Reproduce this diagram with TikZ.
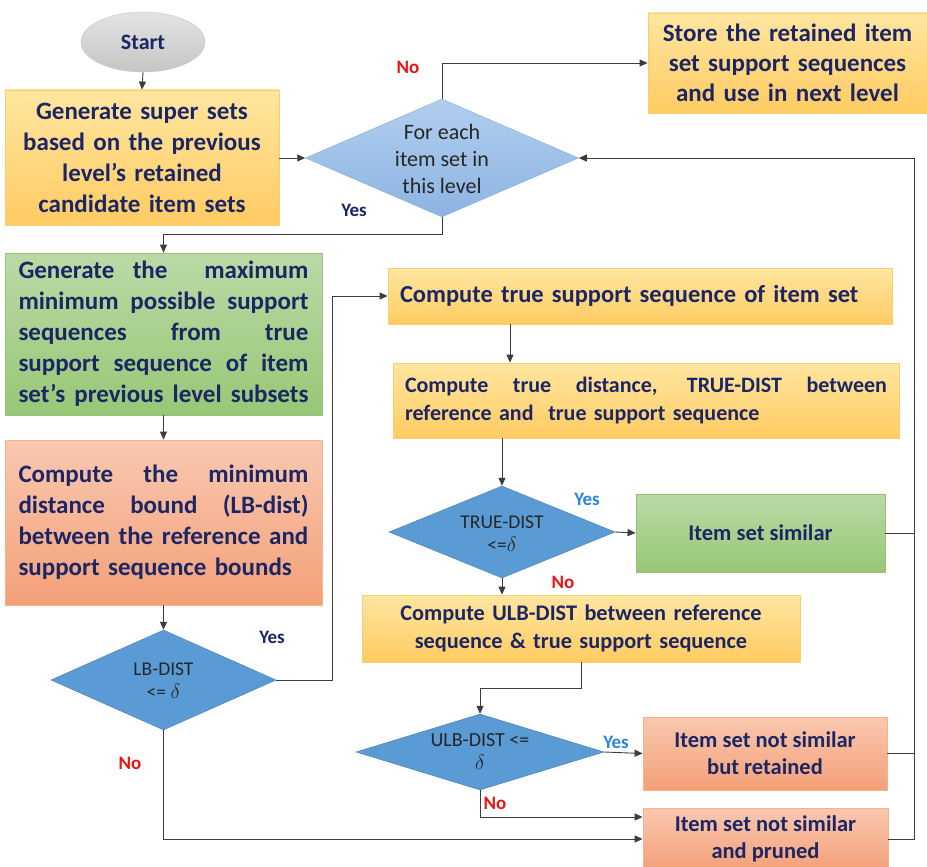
\documentclass[tikz,border=0pt]{standalone}
\usepackage{fontspec}
\setmainfont{Carlito}
\usetikzlibrary{shapes.geometric,arrows.meta}
\definecolor{navy}{RGB}{28,38,100}
\definecolor{lnc}{RGB}{60,60,60}
\definecolor{orT}{RGB}{255,230,160}
\definecolor{orB}{RGB}{255,203,98}
\definecolor{orD}{RGB}{250,205,110}
\definecolor{grT}{RGB}{186,218,166}
\definecolor{grB}{RGB}{152,199,118}
\definecolor{grD}{RGB}{150,195,115}
\definecolor{rdT}{RGB}{249,200,176}
\definecolor{rdB}{RGB}{244,160,120}
\definecolor{rdD}{RGB}{245,178,140}
\definecolor{dbl}{RGB}{91,155,213}
\definecolor{lbT}{RGB}{178,206,238}
\definecolor{lbB}{RGB}{140,180,226}
\definecolor{yesb}{RGB}{40,135,220}
\definecolor{nor}{RGB}{235,20,20}
\newcommand\myfz[2]{\fontsize{#1}{#2}\selectfont\bfseries}
\newcommand\jl[2]{{\spaceskip=0pt\xspaceskip=0pt\makebox[#1][s]{#2}}}
\hyphenpenalty=10000
\tikzset{
  boxbase/.style={rectangle, inner sep=0pt, line width=0.8pt, text=navy},
  orbox/.style={boxbase, top color=orT, bottom color=orB, draw=orD},
  grbox/.style={boxbase, top color=grT, bottom color=grB, draw=grD},
  rdbox/.style={boxbase, top color=rdT, bottom color=rdB, draw=rdD},
  dia/.style={diamond, inner sep=0pt, fill=dbl, draw=dbl!85!black, line width=0.5pt},
  ldia/.style={diamond, inner sep=0pt, top color=lbT, bottom color=lbB, draw=lbB, line width=0.5pt},
  dtext/.style={align=center, text=black!85, inner sep=0pt},
  arr/.style={draw=lnc, line width=0.9pt, -{Triangle[length=8pt,width=7pt]}},
  ln/.style={draw=lnc, line width=0.9pt},
  yesn/.style={text=navy, font=\myfz{19}{22}},
  yesl/.style={text=yesb, font=\myfz{19}{22}},
  nol/.style={text=nor, font=\myfz{19}{22}}
}
\begin{document}
\begin{tikzpicture}[x=1pt,y=-1pt]
\useasboundingbox (0,0) rectangle (927,867);
\fill[white] (0,0) rectangle (927,867);

% nodes
\node[ellipse, minimum width=124, minimum height=60, inner sep=0pt, top color=gray!22, bottom color=gray!45, draw=gray!45, text=navy, font=\myfz{22}{24}] (start) at (143,42) {Start};

\node[orbox, minimum width=274, minimum height=135, text width=266, align=center, font=\myfz{25}{31}] (gen) at (142,157.5)
  {Generate super sets\\based on the previous\\level’s retained\\candidate item sets};

\node[ldia, minimum width=273, minimum height=118] (d1) at (442,158) {};
\node[dtext, font=\fontsize{22}{27}\selectfont] (d1t) at (442,159) {For each\\item set in\\this level};

\node[orbox, minimum width=279, minimum height=100, text width=270, align=center, font=\myfz{25}{30}] (store) at (787.5,63)
  {Store the retained item\\set support sequences\\and use in next level};

\node[grbox, minimum width=317, minimum height=162, text width=290, align=left, font=\myfz{25}{31}] (green) at (163.5,334)
  {\jl{290pt}{Generate the \ maximum}\\\jl{290pt}{minimum possible support}\\\jl{290pt}{sequences from true}\\\jl{290pt}{support sequence of item}\\\jl{290pt}{set’s previous level subsets}};

\node[rdbox, minimum width=317, minimum height=165, text width=290, align=left, font=\myfz{25}{31}] (red) at (163.5,522.5)
  {\jl{290pt}{Compute the minimum}\\\jl{290pt}{distance bound (LB-dist)}\\\jl{290pt}{between the reference and}\\support sequence bounds};

\node[dia, minimum width=225, minimum height=100] (lb) at (163.5,680) {};
\node[dtext, font=\fontsize{19.5}{23}\selectfont] (lbt) at (163.5,681) {LB-DIST\\<= $\delta$};

\node[orbox, minimum width=504, minimum height=56, text width=480, align=left, font=\myfz{24.5}{28}] (cts) at (640,296)
  {Compute true support sequence of item set};

\node[orbox, minimum width=506, minimum height=75, text width=482, align=left, font=\myfz{22}{28}] (ctd) at (646,400.5)
  {\jl{482pt}{Compute true distance, TRUE-DIST between}\\reference and\ \ true support sequence};

\node[dia, minimum width=226, minimum height=92] (td) at (502,532) {};
\node[dtext, font=\fontsize{19.5}{23}\selectfont] (tdt) at (502,534) {TRUE-DIST\\<=$\delta$};

\node[grbox, minimum width=249, minimum height=78, align=center, font=\myfz{22.5}{27}] (sim) at (760.5,533) {Item set similar};

\node[orbox, minimum width=438, minimum height=67, text width=424, align=center, font=\myfz{22.3}{28}] (ulbc) at (581,628.5)
  {Compute ULB-DIST between reference\\sequence \& true support sequence};

\node[dia, minimum width=248, minimum height=76] (ud) at (480,752) {};
\node[dtext, font=\fontsize{20}{23}\selectfont] (udt) at (480,752) {ULB-DIST <=\\$\delta$};

\node[rdbox, minimum width=244, minimum height=73, align=center, font=\myfz{22.5}{27}] (ret) at (765,753.5)
  {Item set not similar\\but retained};

\node[rdbox, minimum width=245, minimum height=62, align=center, font=\myfz{22.5}{27}] (prn) at (765.5,839)
  {Item set not similar\\and pruned};

\coordinate (rl) at (914,839);

% connectors
\draw[arr] (start.south) -- (gen.north);
\draw[arr] (gen.east |- d1.west) -- (d1.west);
\draw[arr] (d1.north) |- (store.west);
\draw[arr] (d1.south) -- ++(0,17) -| (green.north);
\draw[arr] (green.south) -- (red.north);
\draw[arr] (red.south) -- (lb.north);
\draw[arr] (lb.east) -- ++(56,0) |- (cts.west);
\draw[arr] ([xshift=-130pt]cts.south) -- ([xshift=-130pt]cts.south |- ctd.north);
\draw[arr] (ctd.south -| td.north) -- (td.north);
\draw[arr] (td.east) -- (sim.west);
\draw[arr] (td.south) -- (td.south |- ulbc.north);
\draw[arr] (ulbc.south) -- ++(0,26) -| (ud.north);
\draw[arr] (ud.east) -- (ret.west);
\draw[arr] (ud.south) |- ([yshift=22pt]prn.west);
\draw[arr] (lb.south) |- (prn.west);
\draw[ln] (sim.east) -- (sim.east -| rl);
\draw[ln] (ret.east) -- (ret.east -| rl);
\draw[arr] (prn.east) -- (rl) |- (d1.east);

% labels
\node[nol] (no1) at (408,67) {No};
\node[yesn] (yes1) at (354,210) {Yes};
\node[yesn] (yes2) at (272,637) {Yes};
\node[nol] (no2) at (130,763) {No};
\node[yesl] (yes3) at (587,499) {Yes};
\node[nol] (no3) at (563,582) {No};
\node[yesl] (yes4) at (616,742) {Yes};
\node[nol] (no4) at (495,803) {No};
\end{tikzpicture}
\end{document}
